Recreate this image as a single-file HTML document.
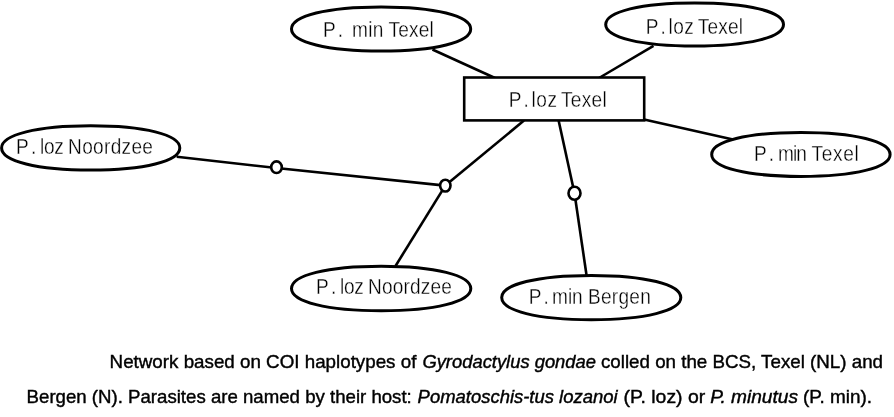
<!DOCTYPE html>
<html><head><meta charset="utf-8">
<style>
html,body{margin:0;padding:0;background:#fff;width:894px;height:417px;overflow:hidden}
svg{position:absolute;left:0;top:0;will-change:transform}
text{font-family:"Liberation Sans",sans-serif;fill:#000}
</style></head><body>
<svg width="894" height="417" viewBox="0 0 894 417">
<g class="shapes">
<g stroke="#000" stroke-width="2.6" fill="none" stroke-linecap="butt">
<line x1="432.4" y1="49.5" x2="495" y2="78"/>
<line x1="653.5" y1="45.8" x2="599" y2="78"/>
<line x1="643" y1="119.2" x2="733" y2="139.5"/>
<polyline points="176.7,156.8 276.5,168 445.3,185.6"/>
<line x1="445.3" y1="185.6" x2="524" y2="120.5"/>
<line x1="445.3" y1="185.6" x2="395.5" y2="266"/>
<line x1="558.5" y1="120" x2="574.5" y2="193.2"/>
<line x1="574.5" y1="193.2" x2="586.5" y2="275"/>
</g>
<g stroke="#000" stroke-width="3.0" fill="#fff">
<path d="M470.70,29.00 C470.70,42.26 434.86,51.10 381.10,51.10 C327.34,51.10 291.50,42.26 291.50,29.00 C291.50,15.74 327.34,6.90 381.10,6.90 C434.86,6.90 470.70,15.74 470.70,29.00Z"/>
<path d="M783.50,24.50 C783.50,37.46 747.94,46.10 694.60,46.10 C641.26,46.10 605.70,37.46 605.70,24.50 C605.70,11.54 641.26,2.90 694.60,2.90 C747.94,2.90 783.50,11.54 783.50,24.50Z"/>
<path d="M890.10,154.45 C890.10,167.62 854.42,176.40 800.90,176.40 C747.38,176.40 711.70,167.62 711.70,154.45 C711.70,141.28 747.38,132.50 800.90,132.50 C854.42,132.50 890.10,141.28 890.10,154.45Z"/>
<path d="M179.80,147.90 C179.80,161.16 144.16,170.00 90.70,170.00 C37.24,170.00 1.60,161.16 1.60,147.90 C1.60,134.64 37.24,125.80 90.70,125.80 C144.16,125.80 179.80,134.64 179.80,147.90Z"/>
<path d="M470.80,288.50 C470.80,301.88 434.94,310.80 381.15,310.80 C327.36,310.80 291.50,301.88 291.50,288.50 C291.50,275.12 327.36,266.20 381.15,266.20 C434.94,266.20 470.80,275.12 470.80,288.50Z"/>
<path d="M680.80,297.55 C680.80,310.84 644.98,319.70 591.25,319.70 C537.52,319.70 501.70,310.84 501.70,297.55 C501.70,284.26 537.52,275.40 591.25,275.40 C644.98,275.40 680.80,284.26 680.80,297.55Z"/>
<rect x="464.2" y="77.5" width="180" height="42.9" stroke-width="2.6"/>
</g>
<g stroke="#000" stroke-width="2.6" fill="#fff">
<ellipse cx="276.5" cy="167.2" rx="5.3" ry="5.8"/>
<ellipse cx="445.3" cy="185.6" rx="5.2" ry="5.9"/>
<ellipse cx="574.5" cy="193.2" rx="6" ry="6.5"/>
</g>
</g>
<g class="labels" font-size="22.2" stroke="#fff" stroke-width="0.35">
<text id="t0_0" transform="translate(323.00,36.8) scale(0.86,1)">P</text>
<text id="t0_1" transform="translate(337.80,36.8) scale(0.86,1)">.</text>
<text id="t0_2" transform="translate(351.90,36.8) scale(0.86,1)" textLength="36.63" lengthAdjust="spacing">min</text>
<text id="t0_3" transform="translate(388.50,36.8) scale(0.86,1)" textLength="52.67" lengthAdjust="spacing">Texel</text>
<text id="t1_0" transform="translate(645.80,33.6) scale(0.86,1)">P</text>
<text id="t1_1" transform="translate(660.50,33.6) scale(0.86,1)">.</text>
<text id="t1_2" transform="translate(668.50,33.6) scale(0.86,1)" textLength="29.53" lengthAdjust="spacing">loz</text>
<text id="t1_3" transform="translate(697.80,33.6) scale(0.86,1)" textLength="52.67" lengthAdjust="spacing">Texel</text>
<text id="t2_0" transform="translate(508.80,106.8) scale(0.86,1)">P</text>
<text id="t2_1" transform="translate(523.60,106.8) scale(0.86,1)">.</text>
<text id="t2_2" transform="translate(531.60,106.8) scale(0.86,1)" textLength="29.53" lengthAdjust="spacing">loz</text>
<text id="t2_3" transform="translate(560.90,106.8) scale(0.86,1)" textLength="53.37" lengthAdjust="spacing">Texel</text>
<text id="t3_0" transform="translate(753.90,161.0) scale(0.86,1)">P</text>
<text id="t3_1" transform="translate(768.70,161.0) scale(0.86,1)">.</text>
<text id="t3_2" transform="translate(777.90,161.0) scale(0.86,1)" textLength="33.84" lengthAdjust="spacing">min</text>
<text id="t3_3" transform="translate(811.50,161.0) scale(0.86,1)" textLength="54.88" lengthAdjust="spacing">Texel</text>
<text id="t4_0" transform="translate(16.00,153.9) scale(0.86,1)">P</text>
<text id="t4_1" transform="translate(30.90,153.9) scale(0.86,1)">.</text>
<text id="t4_2" transform="translate(39.90,153.9) scale(0.86,1)" textLength="27.79" lengthAdjust="spacing">loz</text>
<text id="t4_3" transform="translate(68.10,153.9) scale(0.86,1)" textLength="98.72" lengthAdjust="spacing">Noordzee</text>
<text id="t5_0" transform="translate(316.00,293.9) scale(0.86,1)">P</text>
<text id="t5_1" transform="translate(330.90,293.9) scale(0.86,1)">.</text>
<text id="t5_2" transform="translate(339.90,293.9) scale(0.86,1)" textLength="27.79" lengthAdjust="spacing">loz</text>
<text id="t5_3" transform="translate(368.10,293.9) scale(0.86,1)" textLength="97.44" lengthAdjust="spacing">Noordzee</text>
<text id="t6_0" transform="translate(528.80,303.9) scale(0.86,1)">P</text>
<text id="t6_1" transform="translate(543.60,303.9) scale(0.86,1)">.</text>
<text id="t6_2" transform="translate(552.10,303.9) scale(0.86,1)" textLength="35.58" lengthAdjust="spacing">min</text>
<text id="t6_3" transform="translate(587.90,303.9) scale(0.86,1)" textLength="73.14" lengthAdjust="spacing">Bergen</text>
</g>
<g class="caption" font-size="19" stroke="#000" stroke-width="0.42">
<text id="c0" x="109.60" y="367.7" textLength="306.80" lengthAdjust="spacingAndGlyphs">Network based on COI haplotypes of</text>
<text id="c1" x="422.40" y="367.7" font-style="italic" textLength="173.60" lengthAdjust="spacingAndGlyphs">Gyrodactylus gondae</text>
<text id="c2" x="601.00" y="367.7" textLength="282.00" lengthAdjust="spacingAndGlyphs">colled on the BCS, Texel (NL) and</text>
<text id="c3" x="26.60" y="402.8" textLength="385.20" lengthAdjust="spacingAndGlyphs">Bergen (N). Parasites are named by their host:</text>
<text id="c4" x="417.60" y="402.8" font-style="italic" textLength="200.00" lengthAdjust="spacingAndGlyphs">Pomatoschis-tus lozanoi</text>
<text id="c5" x="623.60" y="402.8" textLength="81.60" lengthAdjust="spacingAndGlyphs">(P. loz) or</text>
<text id="c6" x="710.20" y="402.8" font-style="italic" textLength="87.80" lengthAdjust="spacingAndGlyphs">P. minutus</text>
<text id="c7" x="803.00" y="402.8" textLength="69.00" lengthAdjust="spacingAndGlyphs">(P. min).</text>
</g>
</svg>
</body></html>
